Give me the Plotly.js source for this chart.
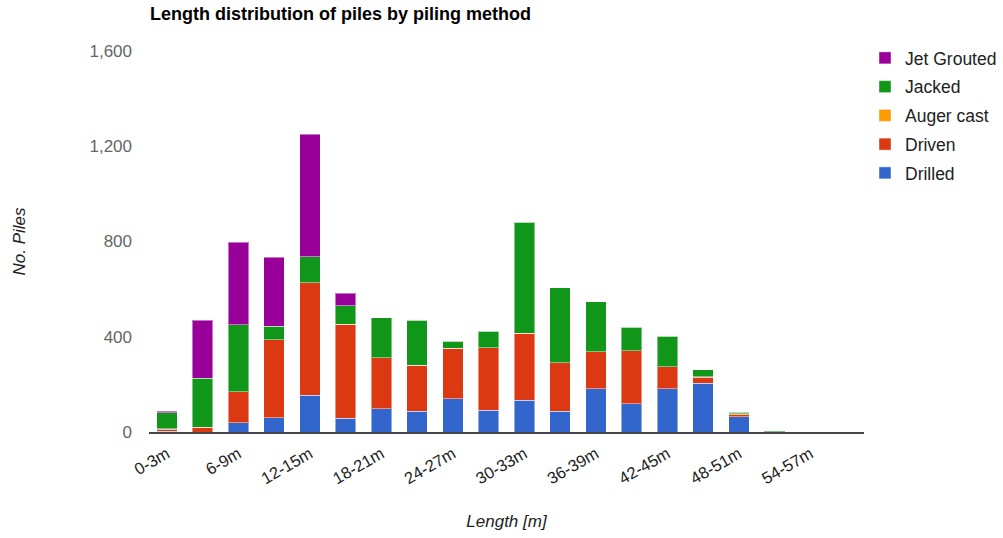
<!DOCTYPE html>
<html>
<head>
<meta charset="utf-8">
<script src="https://cdn.plot.ly/plotly-3.0.1.min.js"></script>
<style>
  html, body { margin: 0; padding: 0; background: #fff; }
  #chart { width: 1003px; height: 538px; }
</style>
</head>
<body>
<div id="chart"></div>
<script>
const categories = ['0-3m','3-6m','6-9m','9-12m','12-15m','15-18m','18-21m','21-24m','24-27m','27-30m',
                    '30-33m','33-36m','36-39m','39-42m','42-45m','45-48m','48-51m','51-54m','54-57m','57-60m'];
const tickLabels = ['0-3m','6-9m','12-15m','18-21m','24-27m','30-33m','36-39m','42-45m','48-51m','54-57m'];

const drilled    = [3, 0, 39, 60, 155, 57, 97, 87, 139, 91, 133, 87, 181, 118, 181, 205, 65, 2, 0, 0];
const driven     = [8, 20, 130, 328, 472, 395, 214, 193, 213, 262, 282, 203, 155, 224, 94, 24, 7, 0, 0, 0];
const augerCast  = [2, 0, 0, 0, 0, 0, 0, 0, 0, 0, 0, 0, 0, 0, 0, 4, 4, 0, 0, 0];
const jacked     = [68, 206, 281, 57, 109, 78, 168, 189, 29, 70, 466, 315, 211, 97, 128, 29, 7, 3, 0, 0];
const jetGrouted = [6, 244, 346, 288, 514, 53, 0, 0, 0, 0, 0, 0, 0, 0, 0, 0, 0, 0, 0, 0];

const seriesNames  = ['Drilled', 'Driven', 'Auger cast', 'Jacked', 'Jet Grouted'];
const seriesValues = [drilled, driven, augerCast, jacked, jetGrouted];
const seriesColors = ['#3366cc', '#dc3912', '#ff9900', '#109618', '#990099'];

const FONT = 'Liberation Sans, Arial, sans-serif';

const traces = seriesNames.map((name, i) => ({
  type: 'bar',
  name: name,
  x: categories,
  y: seriesValues[i],
  legendgroup: 'g' + i,
  legendrank: 100 * (seriesNames.length - i),
  marker: { color: seriesColors[i], line: { color: 'rgba(255,255,255,0.45)', width: 1 } },
  hoverinfo: 'x+y+name'
}));

const layout = {
  width: 1003,
  height: 538,
  barmode: 'stack',
  bargap: 0.42,
  paper_bgcolor: '#ffffff',
  plot_bgcolor: '#ffffff',
  margin: { l: 149, r: 139, t: 51, b: 106 },
  font: { family: FONT, size: 17, color: '#222' },
  title: {
    text: 'Length distribution of piles by piling method',
    font: { family: FONT, size: 18, color: '#000', weight: 'bold' },
    x: 150 / 1003, xanchor: 'left', xref: 'container',
    y: 1 - 14 / 538, yanchor: 'middle', yref: 'container'
  },
  xaxis: {
    type: 'category',
    categoryorder: 'array',
    categoryarray: categories,
    tickmode: 'array',
    tickvals: tickLabels,
    ticktext: tickLabels,
    tickangle: -30,
    tickfont: { family: FONT, size: 16.5, color: '#222' },
    ticklabelstandoff: 4,
    showgrid: false,
    zeroline: false,
    showline: true,
    linecolor: '#444',
    linewidth: 2,
    ticks: '',
    title: { text: '<i>Length [m]</i>', font: { family: FONT, size: 17, color: '#222' }, standoff: 29 }
  },
  yaxis: {
    range: [0, 1600],
    tickvals: [0, 400, 800, 1200, 1600],
    tickformat: ',d',
    tickfont: { family: FONT, size: 17, color: '#666' },
    showgrid: false,
    zeroline: false,
    showline: false,
    ticks: '',
    ticklabelstandoff: 16,
    title: { text: '<i>No. Piles</i>', font: { family: FONT, size: 17, color: '#222' }, standoff: 59 }
  },
  legend: {
    xref: 'container', x: 865 / 1003, xanchor: 'left',
    yref: 'container', y: 1 - 40 / 538, yanchor: 'top',
    traceorder: 'grouped',
    tracegroupgap: 3,
    font: { family: FONT, size: 17.5, color: '#222' },
    bgcolor: 'rgba(0,0,0,0)'
  },
  showlegend: true
};

Plotly.newPlot('chart', traces, layout, { displayModeBar: false, staticPlot: true });
</script>
</body>
</html>
